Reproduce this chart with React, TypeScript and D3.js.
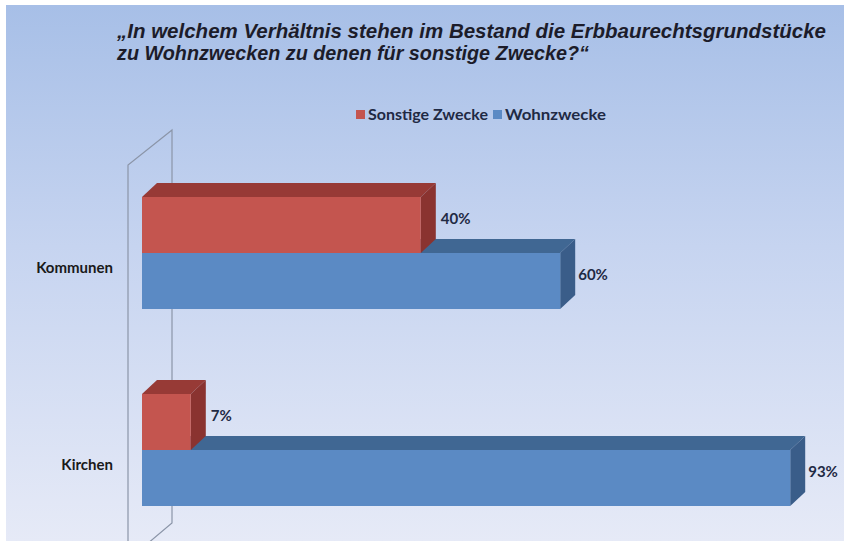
import React from "react";
import * as d3 from "d3";

const categories = ["Kommunen", "Kirchen"];
const seriesNames = ["Sonstige Zwecke", "Wohnzwecke"];
const sonstige = [40, 7];
const wohn = [60, 93];
const titleLines = [
  "\u201EIn welchem Verh\u00E4ltnis stehen im Bestand die Erbbaurechtsgrundst\u00FCcke",
  "zu Wohnzwecken zu denen f\u00FCr sonstige Zwecke?\u201C",
];

const W = 844;
const H = 541;
const DX = 15;
const DY = -14;
const BAR_H = 56;

const colors = {
  red: { front: "#c4554f", top: "#973a36", side: "#8a3330" },
  blue: { front: "#5b8ac4", top: "#406793", side: "#3a5d89" },
};

function Bar3D({ x0, x1, y, h, c }: { x0: number; x1: number; y: number; h: number; c: any }) {
  const top = `M${x0},${y} L${x0 + DX},${y + DY} L${x1 + DX},${y + DY} L${x1},${y} Z`;
  const side = `M${x1},${y} L${x1 + DX},${y + DY} L${x1 + DX},${y + h + DY} L${x1},${y + h} Z`;
  return (
    <g>
      <path d={top} fill={c.top} />
      <path d={side} fill={c.side} />
      <rect x={x0} y={y} width={x1 - x0} height={h} fill={c.front} />
    </g>
  );
}

export default function App() {
  const x = d3.scaleLinear().domain([0, 100]).range([142, 839]);
  const y = d3.scaleBand<string>().domain(categories).range([154.5, 548.5]).padding(0);
  const fmt = (v: number) => `${v}%`;
  const labelFont = "Lato, 'Open Sans', sans-serif";
  const fs = 15;

  return (
    <svg width={W} height={H} style={{ position: "fixed", left: 0, top: 0 }}>
      <defs>
        <linearGradient id="bg" x1="0" y1="0" x2="0" y2="1">
          <stop offset="0" stopColor="#a7bfe7" />
          <stop offset="0.45" stopColor="#c6d4f0" />
          <stop offset="1" stopColor="#e6eaf7" />
        </linearGradient>
      </defs>
      <rect x={0} y={0} width={W} height={H} fill="#ffffff" />
      <rect x={6} y={5} width={W - 6} height={H - 5} fill="url(#bg)" />

      {/* title */}
      {titleLines.map((t, i) => (
        <text
          key={i}
          x={117}
          y={38 + i * 22}
          fontFamily="'Liberation Sans', Arial, sans-serif"
          fontStyle="italic"
          fontWeight="bold"
          fontSize={20}
          fill="#1c1c2a"
          textLength={i === 0 ? 709 : 472}
          lengthAdjust="spacingAndGlyphs"
        >
          {t}
        </text>
      ))}

      {/* legend */}
      <g fontFamily={labelFont} fontWeight="bold" fontSize={fs} fill="#1f2a44">
        <rect x={356} y={110} width={9} height={9} fill={colors.red.front} />
        <text x={368} y={120} textLength={120} lengthAdjust="spacingAndGlyphs">{seriesNames[0]}</text>
        <rect x={493} y={110} width={9} height={9} fill={colors.blue.front} />
        <text x={505} y={120} textLength={101} lengthAdjust="spacingAndGlyphs">{seriesNames[1]}</text>
      </g>

      {/* side wall */}
      <path
        d="M172,130 L128,165 L128,560 L172,523 Z"
        fill="none"
        stroke="#8b95a8"
        strokeWidth={1.2}
      />

      {/* bars */}
      {categories.map((cat, i) => {
        const c = (y(cat) as number) + y.bandwidth() / 2;
        return (
          <g key={cat}>
            <Bar3D x0={x(0)} x1={x(wohn[i])} y={c} h={BAR_H} c={colors.blue} />
            <Bar3D x0={x(0)} x1={x(sonstige[i])} y={c - BAR_H} h={BAR_H} c={colors.red} />
            <text
              x={x(sonstige[i]) + DX + 5}
              y={c - BAR_H / 2 + DY / 2 + 6}
              fontFamily={labelFont}
              fontWeight="bold"
              fontSize={fs}
              fill="#1f2a44"
            >
              {fmt(sonstige[i])}
            </text>
            <text
              x={x(wohn[i]) + DX + 3}
              y={c + BAR_H / 2 + DY / 2 + 6}
              fontFamily={labelFont}
              fontWeight="bold"
              fontSize={fs}
              fill="#1f2a44"
            >
              {fmt(wohn[i])}
            </text>
            <text
              x={113}
              y={c + 20}
              textAnchor="end"
              fontFamily={labelFont}
              fontWeight="bold"
              fontSize={fs}
              fill="#1a1a1a"
            >
              {cat}
            </text>
          </g>
        );
      })}
    </svg>
  );
}
